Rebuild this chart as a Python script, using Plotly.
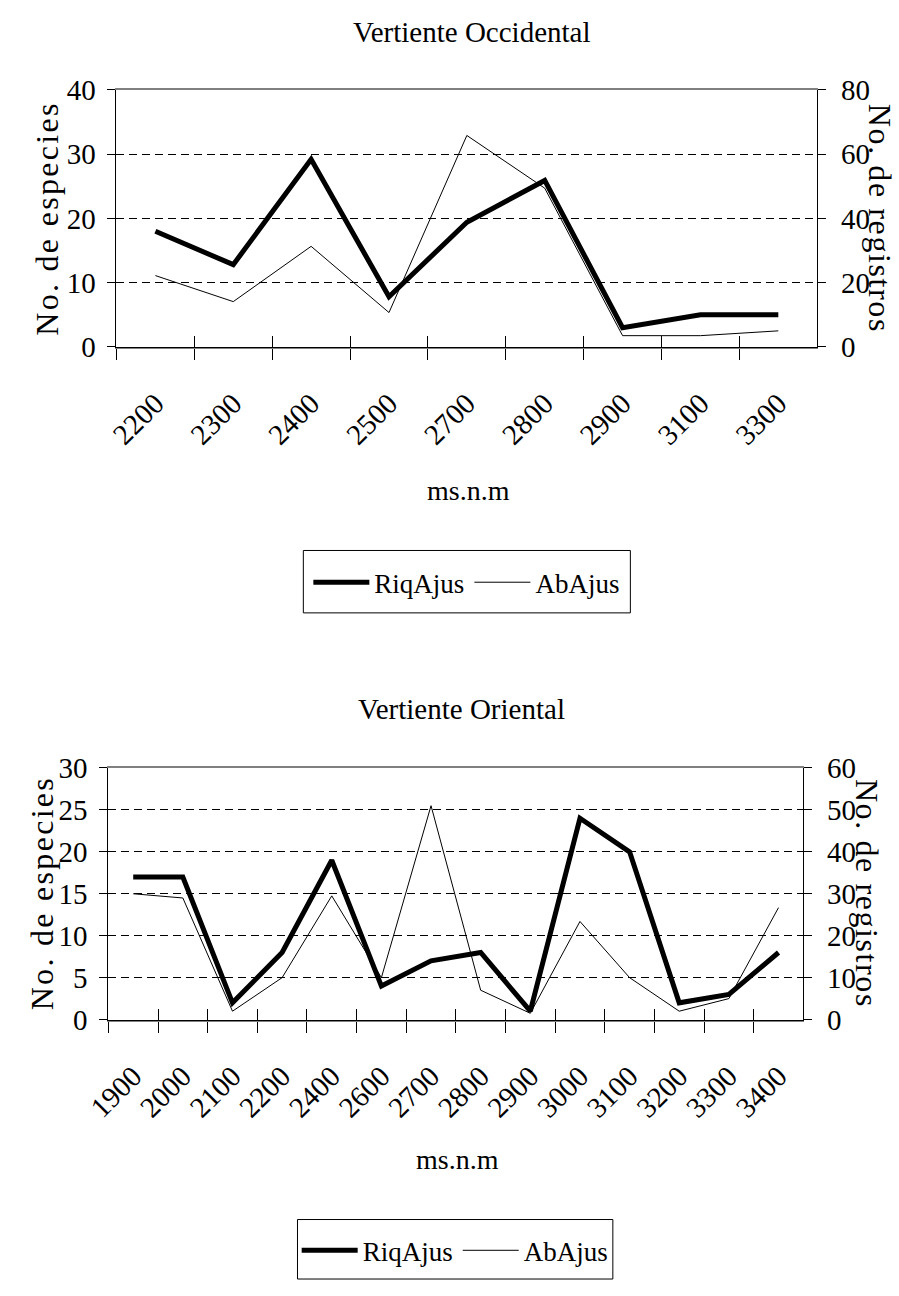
import plotly.graph_objects as go

# ---- data ----
occ_altitudes = ['2200', '2300', '2400', '2500', '2700', '2800', '2900', '3100', '3300']
occ_riqajus = [18, 12.8, 29.2, 7.8, 19.4, 25.9, 3, 5, 5]
occ_abajus = [22.2, 14.1, 31.3, 10.7, 65.8, 49.4, 3.5, 3.5, 5]

ori_altitudes = ['1900', '2000', '2100', '2200', '2400', '2600', '2700', '2800',
                 '2900', '3000', '3100', '3200', '3300', '3400']
ori_riqajus = [17, 17, 2, 8, 19, 4, 7, 8, 1, 24, 20, 2, 3, 8]
ori_abajus = [30, 29, 2, 10, 29.5, 10, 51, 7, 1.5, 23.4, 10, 2, 5, 26.7]

W, H = 899, 1296
FONT = "Liberation Serif, Times New Roman, serif"
TICKSIZE = 29


def px_x(v):
    return v / W


def px_y(v):
    return 1 - v / H


fig = go.Figure()

# top chart traces
fig.add_trace(go.Scatter(x=occ_altitudes, y=occ_riqajus, name='RiqAjus', mode='lines',
                         line=dict(color='black', width=5), xaxis='x', yaxis='y',
                         legend='legend'))
fig.add_trace(go.Scatter(x=occ_altitudes, y=occ_abajus, name='AbAjus', mode='lines',
                         line=dict(color='black', width=1), xaxis='x3', yaxis='y2',
                         legend='legend'))
# bottom chart traces
fig.add_trace(go.Scatter(x=ori_altitudes, y=ori_riqajus, name='RiqAjus', mode='lines',
                         line=dict(color='black', width=5), xaxis='x2', yaxis='y3',
                         legend='legend2'))
fig.add_trace(go.Scatter(x=ori_altitudes, y=ori_abajus, name='AbAjus', mode='lines',
                         line=dict(color='black', width=1), xaxis='x4', yaxis='y4',
                         legend='legend2'))

tickfont = dict(family=FONT, size=TICKSIZE, color='black')
grid = dict(showgrid=True, gridcolor='black', gridwidth=1, griddash='8px,5px')


def xbase(domain, anchor, cats):
    return dict(domain=domain, anchor=anchor, type='category', categoryorder='array',
                categoryarray=cats, range=[-0.5, len(cats) - 0.5], tickson='boundaries',
                ticks='outside', ticklen=11, tickcolor='black', tickwidth=1,
                showline=True, linecolor='#808080', linewidth=2, mirror=True,
                tickangle=-45, tickfont=tickfont, ticklabelstandoff=26, dtick=1,
                showgrid=False, zeroline=False, fixedrange=True)


def xover(over, anchor, cats):
    return dict(overlaying=over, anchor=anchor, type='category', categoryorder='array',
                categoryarray=cats, range=[-0.5, len(cats) - 0.5], tickson='boundaries',
                ticks='inside', ticklen=11, tickcolor='black', tickwidth=1,
                showticklabels=False, showline=True, linecolor='black', linewidth=1,
                showgrid=False, zeroline=False, dtick=1, fixedrange=True)


def yleft(domain, anchor, rng, dt):
    d = dict(domain=domain, anchor=anchor, range=rng, dtick=dt, ticks='outside', ticklen=8,
             tickcolor='black', showline=True, linecolor='black', linewidth=1,
             zeroline=False, tickfont=tickfont, ticklabelstandoff=6, fixedrange=True)
    d.update(grid)
    return d


def yright(over, anchor, rng, dt):
    return dict(overlaying=over, anchor=anchor, side='right', range=rng, dtick=dt,
                ticks='outside', ticklen=8, tickcolor='black', showline=True,
                linecolor='black', linewidth=1, showgrid=False, zeroline=False,
                tickfont=tickfont, ticklabelstandoff=9, fixedrange=True)


top_xd = [px_x(95), px_x(815)]
top_yd = [px_y(339.3), px_y(75.7)]
bot_xd = [px_x(86.7), px_x(800.7)]
bot_yd = [px_y(1029), px_y(771)]

legend_common = dict(orientation='h', borderwidth=0, bgcolor='rgba(0,0,0,0)',
                     font=dict(family=FONT, size=27, color='black'), xanchor='center',
                     yanchor='middle', itemwidth=56)

# legend frames (boxes around each legend)
legend_boxes = [(287, 548, 623, 612), (281, 1234, 605, 1295)]

fig.update_layout(
    width=W, height=H, autosize=False,
    margin=dict(l=0, r=0, t=0, b=0),
    paper_bgcolor='white', plot_bgcolor='white',
    font=dict(family=FONT, color='black'),
    xaxis=xbase(top_xd, 'y', occ_altitudes),
    xaxis3=xover('x', 'y', occ_altitudes),
    yaxis=yleft(top_yd, 'x', [0, 40], 10),
    yaxis2=yright('y', 'x', [0, 80], 20),
    xaxis2=xbase(bot_xd, 'y3', ori_altitudes),
    xaxis4=xover('x2', 'y3', ori_altitudes),
    yaxis3=yleft(bot_yd, 'x2', [0, 30], 5),
    yaxis4=yright('y3', 'x2', [0, 60], 10),
    legend=dict(x=px_x(455), y=px_y(581), **legend_common),
    legend2=dict(x=px_x(443), y=px_y(1266), **legend_common),
    shapes=[dict(type='rect', xref='paper', yref='paper', x0=px_x(a), y0=px_y(d),
                 x1=px_x(c), y1=px_y(b), line=dict(color='black', width=1),
                 fillcolor='rgba(0,0,0,0)', layer='above')
            for (a, b, c, d) in legend_boxes],
)

ann = []


def add_text(text, x, y, size, angle=0, spacing=0):
    if spacing:
        text = '<span style="letter-spacing:%spx">%s</span>' % (spacing, text)
    ann.append(dict(text=text, x=px_x(x), y=px_y(y), xref='paper', yref='paper',
                    showarrow=False, textangle=angle, xanchor='center', yanchor='middle',
                    font=dict(family=FONT, size=size, color='black')))


add_text('Vertiente Occidental', 460, 16, 29)
add_text('No. de especies', 24, 207.5, 32, -90, 2.3)
add_text('No. de registros', 879, 207.5, 32, 90, 1.6)
add_text('ms.n.m', 457, 486, 28)

add_text('Vertiente Oriental', 449, 711, 29)
add_text('No. de especies', 18, 900, 32, -90, 2.3)
add_text('No. de registros', 866, 900, 32, 90, 1.6)
add_text('ms.n.m', 445, 1172, 28)

fig.update_layout(annotations=ann)

fig.write_html("out.html", config={'displayModeBar': False},
               post_script="document.body.style.margin='0px';")
